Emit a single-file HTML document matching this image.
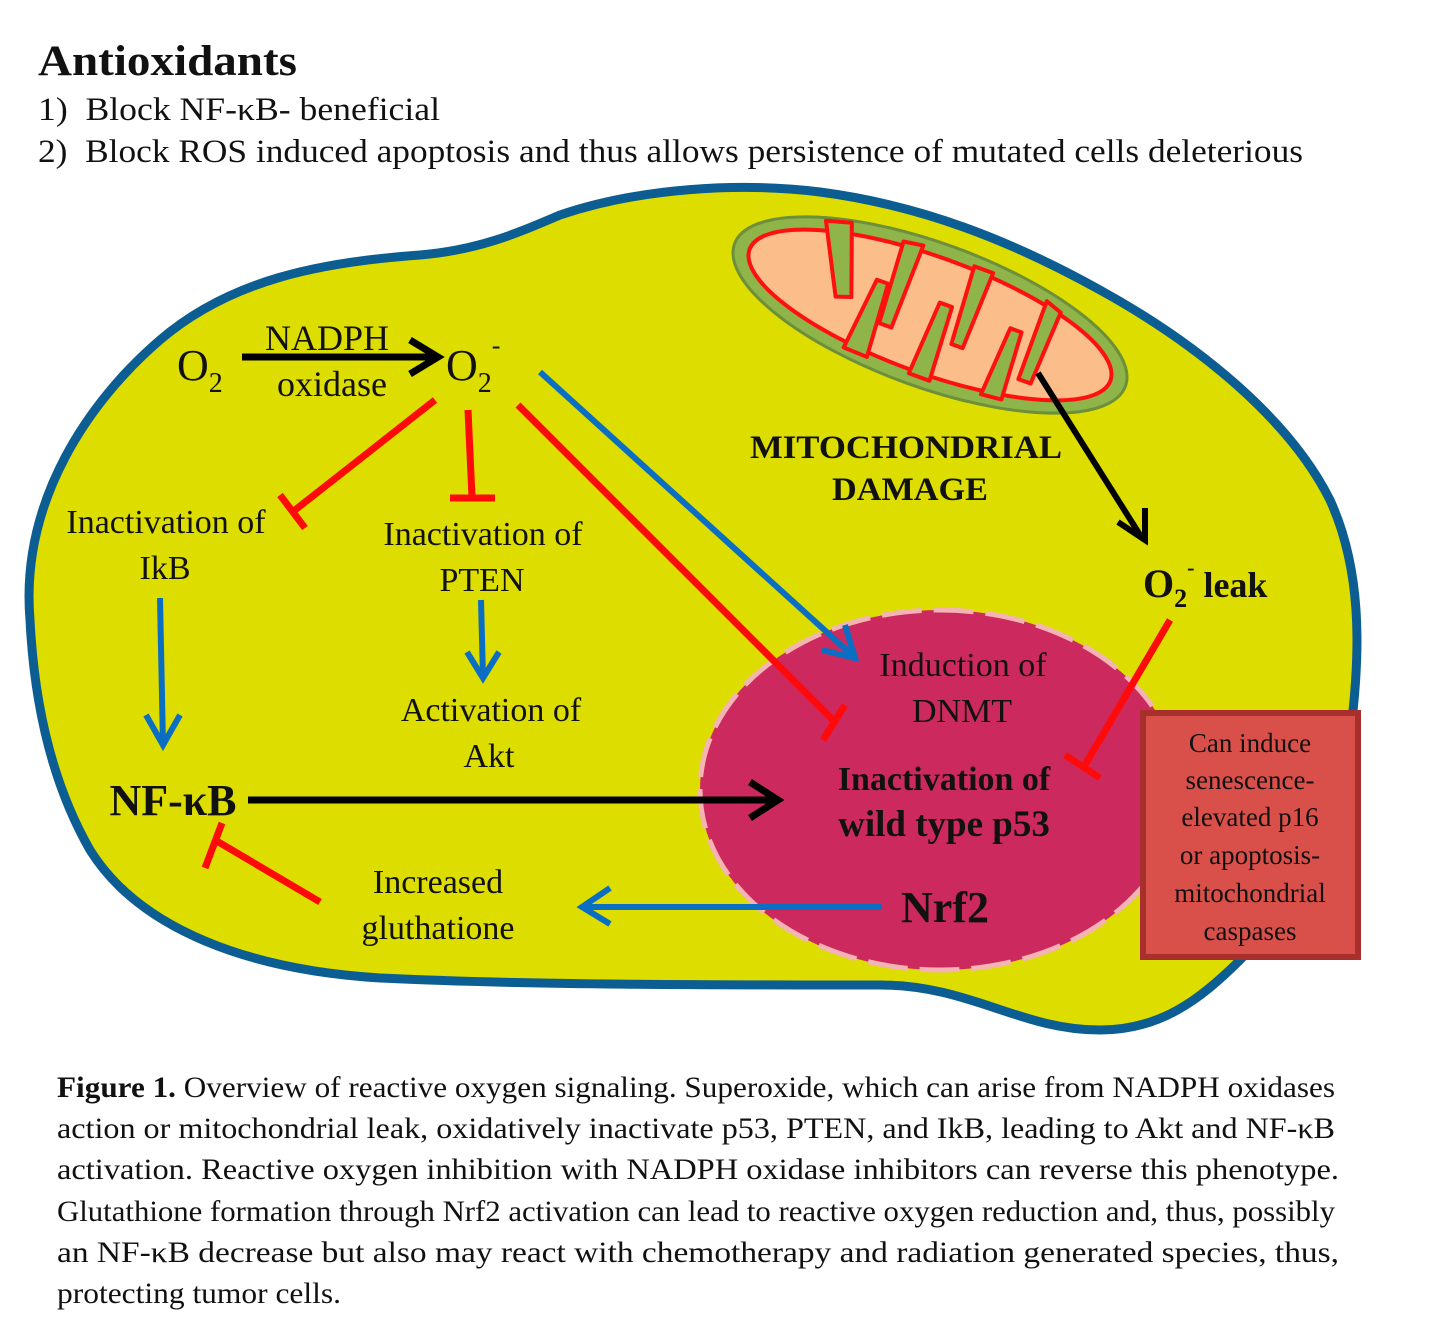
<!DOCTYPE html>
<html><head><meta charset="utf-8"><style>
html,body{margin:0;padding:0;background:#fff;}
body{width:1443px;height:1327px;position:relative;overflow:hidden;font-family:"Liberation Serif",serif;}
</style></head><body>
<svg width="1443" height="1327" style="position:absolute;left:0;top:0" font-family="Liberation Serif, serif">
<g fill="#111">
<text x="38" y="75" font-size="43" font-weight="bold" textLength="259" lengthAdjust="spacingAndGlyphs">Antioxidants</text>
<text x="38" y="120" font-size="33" textLength="402" lengthAdjust="spacingAndGlyphs">1)&#160; Block NF-κB- beneficial</text>
<text x="38" y="162" font-size="33" textLength="1265" lengthAdjust="spacingAndGlyphs">2)&#160; Block ROS induced apoptosis and thus allows persistence of mutated cells deleterious</text>
</g>
<path d="M30,620 C20,500 90,400 160,340 C230,280 320,262 420,255 C480,250 520,232 560,215 C640,188 740,182 820,192 C920,205 1010,240 1100,290 C1200,345 1290,420 1330,500 C1362,570 1360,650 1352,720 C1340,820 1300,900 1240,960 C1200,1000 1160,1030 1100,1030 C1020,1030 970,985 880,985 C720,985 520,985 380,978 C250,970 140,930 90,850 C50,780 34,700 30,620 Z" fill="#dddd00" stroke="#0c5d92" stroke-width="9"/>
<g transform="rotate(20 930 315)">
<ellipse cx="930" cy="315" rx="208" ry="72" fill="#8fb44a" stroke="#6e8f3a" stroke-width="3"/>
<ellipse cx="930" cy="315" rx="192" ry="58" fill="#fbbd8a" stroke="#ff1010" stroke-width="4"/>
<g fill="#8fb44a" stroke="#ff1010" stroke-width="4" stroke-linejoin="round">
<path d="M800,262 L835,330 L850,325 L825,255 Z"/>
<path d="M880,255 L885,340 L898,340 L900,252 Z"/>
<path d="M955,254 L960,335 L972,335 L975,254 Z"/>
<path d="M1035,262 L1035,345 L1048,345 L1052,268 Z"/>
<path d="M860,375 L868,300 L880,300 L885,376 Z"/>
<path d="M930,377 L935,300 L948,300 L952,377 Z"/>
<path d="M1005,372 L1010,300 L1022,300 L1026,370 Z"/>
</g>
</g>
<ellipse cx="940" cy="790" rx="240" ry="180" fill="#cc2a5e" stroke="#f4b4b4" stroke-width="5" stroke-dasharray="40 12"/>
<rect x="1143" y="713" width="215" height="244" fill="#d9504a" stroke="#a8302c" stroke-width="6"/>
<g font-size="27" fill="#111" text-anchor="middle">
<text x="1250" y="752">Can induce</text>
<text x="1250" y="789">senescence-</text>
<text x="1250" y="826">elevated p16</text>
<text x="1250" y="864">or apoptosis-</text>
<text x="1250" y="902">mitochondrial</text>
<text x="1250" y="940">caspases</text>
</g>
<g fill="none" stroke-linecap="butt">
<line x1="242" y1="357" x2="435" y2="357" stroke="#000" stroke-width="7"/>
<polyline points="410,340 438,357 410,374" stroke="#000" stroke-width="7"/>
<line x1="1038" y1="373" x2="1140" y2="535" stroke="#000" stroke-width="6"/>
<polyline points="1118,522 1145,540 1145,508" stroke="#000" stroke-width="6"/>
<line x1="248" y1="800" x2="775" y2="800" stroke="#000" stroke-width="7"/>
<polyline points="750,782 778,800 750,818" stroke="#000" stroke-width="7"/>
<g stroke="#ff0a0a" stroke-width="7">
<line x1="435" y1="400" x2="295" y2="510"/><line x1="280" y1="495" x2="305" y2="528"/>
<line x1="468" y1="410" x2="472" y2="497"/><line x1="450" y1="498" x2="495" y2="498"/>
<line x1="518" y1="405" x2="833" y2="720"/><line x1="845" y1="705" x2="823" y2="740"/>
<line x1="1170" y1="620" x2="1085" y2="765"/><line x1="1065" y1="755" x2="1100" y2="778"/>
<line x1="320" y1="902" x2="215" y2="840"/><line x1="222" y1="823" x2="205" y2="868"/>
</g>
<g stroke="#0a6fc2" stroke-width="6">
<line x1="540" y1="372" x2="852" y2="655"/><polyline points="822,650 855,658 845,625"/>
<line x1="160" y1="598" x2="163" y2="745"/><polyline points="146,715 163,745 180,715"/>
<line x1="481" y1="600" x2="483" y2="678"/><polyline points="467,652 483,678 499,652"/>
<line x1="882" y1="907" x2="582" y2="907"/><polyline points="610,888 582,907 610,924"/>
</g>
</g>
<g fill="#111">
<text x="177" y="380" font-size="44">O<tspan font-size="28" dy="12">2</tspan></text>
<text x="446" y="380" font-size="44">O<tspan font-size="28" dy="12">2</tspan><tspan font-size="26" dy="-38">-</tspan></text>
<text x="327" y="350" font-size="36" text-anchor="middle">NADPH</text>
<text x="332" y="396" font-size="36" text-anchor="middle">oxidase</text>
<text x="906" y="458" font-size="33" font-weight="bold" text-anchor="middle" textLength="312" lengthAdjust="spacingAndGlyphs">MITOCHONDRIAL</text>
<text x="910" y="500" font-size="33" font-weight="bold" text-anchor="middle" textLength="156" lengthAdjust="spacingAndGlyphs">DAMAGE</text>
<text x="1143" y="597" font-size="40" font-weight="bold">O<tspan font-size="26" dy="10">2</tspan><tspan font-size="22" dy="-32">-</tspan><tspan font-size="36" dy="22"> leak</tspan></text>
<g font-size="34" text-anchor="middle">
<text x="166" y="533">Inactivation of</text><text x="165" y="579">IkB</text>
<text x="483" y="545">Inactivation of</text><text x="482" y="591">PTEN</text>
<text x="491" y="721">Activation of</text><text x="489" y="767">Akt</text>
<text x="963" y="676">Induction of</text><text x="962" y="722">DNMT</text>
<text x="438" y="893">Increased</text><text x="438" y="939">gluthatione</text>
</g>
<g font-weight="bold" text-anchor="middle">
<text x="944" y="790" font-size="34">Inactivation of</text>
<text x="944" y="836" font-size="37">wild type p53</text>
<text x="945" y="922" font-size="44">Nrf2</text>
<text x="173" y="815" font-size="44">NF-κB</text>
</g>
</g>
<g fill="#111" font-size="29.5">
<text x="57" y="1097" textLength="1278" lengthAdjust="spacingAndGlyphs"><tspan font-weight="bold">Figure 1.</tspan> Overview of reactive oxygen signaling. Superoxide, which can arise from NADPH oxidases</text>
<text x="57" y="1138" textLength="1278" lengthAdjust="spacingAndGlyphs">action or mitochondrial leak, oxidatively inactivate p53, PTEN, and IkB, leading to Akt and NF-κB</text>
<text x="57" y="1179" textLength="1282" lengthAdjust="spacingAndGlyphs">activation. Reactive oxygen inhibition with NADPH oxidase inhibitors can reverse this phenotype.</text>
<text x="57" y="1221" textLength="1278" lengthAdjust="spacingAndGlyphs">Glutathione formation through Nrf2 activation can lead to reactive oxygen reduction and, thus, possibly</text>
<text x="57" y="1262" textLength="1282" lengthAdjust="spacingAndGlyphs">an NF-κB decrease but also may react with chemotherapy and radiation generated species, thus,</text>
<text x="57" y="1303" textLength="284" lengthAdjust="spacingAndGlyphs">protecting tumor cells.</text>
</g>
</svg>
</body></html>
